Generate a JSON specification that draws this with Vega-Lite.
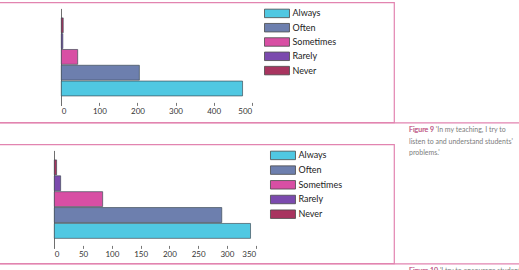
{
  "$schema": "https://vega.github.io/schema/vega-lite/v6.json",
  "padding": {"left": -3, "top": 1.4, "right": 0, "bottom": 0},
  "background": "white",
  "spacing": 22,
  "bounds": "flush",
  "config": {
    "view": {"stroke": "#E284B0", "strokeWidth": 1.2},
    "font": "Lato",
    "axis": {"grid": false, "title": null, "labelFont": "Lato", "labelFontSize": 8, "labelColor": "#333333"},
    "legend": {
      "orient": "none",
      "title": null,
      "symbolType": "M-2,-0.68H2V0.68H-2Z",
      "symbolSize": 156.25,
      "symbolStrokeColor": "#4a4a4a",
      "symbolStrokeWidth": 0.8,
      "symbolOpacity": 1,
      "labelFont": "Lato",
      "labelFontSize": 9,
      "labelColor": "#222222",
      "labelOffset": 8.5,
      "rowPadding": 1.5
    },
    "title": {
      "orient": "bottom",
      "anchor": "start",
      "frame": "group",
      "font": "Lato",
      "fontSize": 7,
      "fontWeight": "normal",
      "color": "#7d7d7d",
      "lineHeight": 11.5,
      "subtitleFont": "Lato",
      "subtitleFontSize": 7,
      "subtitleFontWeight": "normal",
      "subtitleColor": "#E0609A",
      "subtitleLineHeight": 11.5,
      "subtitlePadding": -30,
      "baseline": "top"
    }
  },
  "resolve": {"scale": {"color": "independent"}, "legend": {"color": "independent"}},
  "vconcat": [
    {
      "width": 396,
      "height": 120,
      "title": {
        "text": ["Figure 9 'In my teaching, I try to", "listen to and understand students'", "problems.'"],
        "subtitle": "Figure 9",
        "dx": 411,
        "offset": 4
      },
      "data": {
        "values": [
          {"answer": "Always", "count": 476},
          {"answer": "Often", "count": 205},
          {"answer": "Sometimes", "count": 43},
          {"answer": "Rarely", "count": 4},
          {"answer": "Never", "count": 5}
        ]
      },
      "layer": [
        {
          "mark": {"type": "bar", "stroke": "#3d4a55", "strokeWidth": 0.8, "strokeOpacity": 0.85},
          "encoding": {
            "y": {
              "field": "answer",
              "type": "nominal",
              "sort": ["Never", "Rarely", "Sometimes", "Often", "Always"],
              "scale": {"range": [6, 103], "paddingInner": 0.06, "paddingOuter": 0.6},
              "axis": {"orient": "left", "offset": -63, "domainColor": "#6e6e6e", "domainWidth": 1, "ticks": false, "labels": false}
            },
            "x": {
              "field": "count",
              "type": "quantitative",
              "scale": {"domain": [0, 500], "range": [63.3, 253.7], "nice": false},
              "axis": {"orient": "bottom", "offset": -20, "values": [0, 100, 200, 300, 400, 500], "domain": false, "tickSize": 3, "tickColor": "#777777", "labelPadding": 2}
            },
            "color": {
              "field": "answer",
              "type": "nominal",
              "scale": {
                "domain": ["Always", "Often", "Sometimes", "Rarely", "Never"],
                "range": ["#50C8E2", "#6D7FAE", "#D84FA4", "#7B4AAE", "#A8345F"]
              },
              "legend": {"legendX": 272, "legendY": 4, "rowPadding": 1.3}
            }
          }
        },
        {
          "mark": {"type": "rule", "strokeOpacity": 0},
          "encoding": {
            "x": {
              "datum": 0,
              "type": "quantitative",
              "scale": {"domain": [0, 1], "range": [0, 525]},
              "axis": {"orient": "bottom", "offset": 0, "domainColor": "#E284B0", "domainWidth": 1.2, "ticks": false, "labels": false}
            }
          }
        }
      ],
      "resolve": {"scale": {"x": "independent"}, "axis": {"x": "independent"}}
    },
    {
      "width": 396,
      "height": 119,
      "title": {
        "text": ["Figure 10 'I try to encourage students to"],
        "subtitle": "Figure 10",
        "dx": 411,
        "offset": 4,
        "subtitlePadding": -7
      },
      "data": {
        "values": [
          {"answer": "Always", "count": 341},
          {"answer": "Often", "count": 291},
          {"answer": "Sometimes", "count": 84},
          {"answer": "Rarely", "count": 11},
          {"answer": "Never", "count": 4}
        ]
      },
      "layer": [
        {
          "mark": {"type": "bar", "stroke": "#3d4a55", "strokeWidth": 0.8, "strokeOpacity": 0.85},
          "encoding": {
            "y": {
              "field": "answer",
              "type": "nominal",
              "sort": ["Never", "Rarely", "Sometimes", "Often", "Always"],
              "scale": {"range": [6, 103.5], "paddingInner": 0.06, "paddingOuter": 0.6},
              "axis": {"orient": "left", "offset": -56, "domainColor": "#6e6e6e", "domainWidth": 1, "ticks": false, "labels": false}
            },
            "x": {
              "field": "count",
              "type": "quantitative",
              "scale": {"domain": [0, 350], "range": [56.3, 257.7], "nice": false},
              "axis": {"orient": "bottom", "offset": -18, "values": [0, 50, 100, 150, 200, 250, 300, 350], "domain": false, "tickSize": 3, "tickColor": "#777777", "labelPadding": 2}
            },
            "color": {
              "field": "answer",
              "type": "nominal",
              "scale": {
                "domain": ["Always", "Often", "Sometimes", "Rarely", "Never"],
                "range": ["#50C8E2", "#6D7FAE", "#D84FA4", "#7B4AAE", "#A8345F"]
              },
              "legend": {"legendX": 278, "legendY": 4, "rowPadding": 1.7}
            }
          }
        },
        {
          "mark": {"type": "rule", "strokeOpacity": 0},
          "encoding": {
            "x": {
              "datum": 0,
              "type": "quantitative",
              "scale": {"domain": [0, 1], "range": [0, 525]},
              "axis": {"orient": "bottom", "offset": 0, "domainColor": "#E284B0", "domainWidth": 1.2, "ticks": false, "labels": false}
            }
          }
        }
      ],
      "resolve": {"scale": {"x": "independent"}, "axis": {"x": "independent"}}
    }
  ]
}
